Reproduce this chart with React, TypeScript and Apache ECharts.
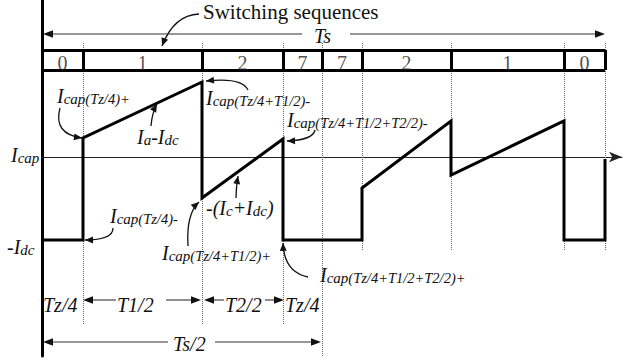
import React, { useEffect, useRef } from 'react';
import * as echarts from 'echarts';

const SERIF = "'Liberation Serif', 'Times New Roman', 'DejaVu Serif', serif";
const INK = '#111';

// time positions of the switching-state boundaries (one unit = one pixel of the original)
const segmentBounds = [0, 41, 160, 241, 280, 320, 409, 522, 563];
const sequenceLabels = ['0', '1', '2', '7', '7', '2', '1', '0'];
// capacitor current waveform
const waveTime = [0, 41, 41, 160, 160, 241, 241, 320, 320, 409, 409, 522, 522, 563, 563];
const waveCurrent = [-83, -83, 19, 75, -41, 18, -83, -83, -31, 36, -18, 36, -83, -83, -2];
// dotted guide lines: lower end for each boundary after the first
const guideBottom = [-168, -168, -168, -199, -93, -93, -93, -93];
const guideTop = 114;
const boxTop = 107;
const boxBottom = 87;
const boxLabelLevel = 94;

type Pt = [number, number];

function head(tip: Pt, from: Pt, len = 9, half = 3.5) {
  const dx = tip[0] - from[0];
  const dy = tip[1] - from[1];
  const d = Math.hypot(dx, dy) || 1;
  const ux = dx / d;
  const uy = dy / d;
  const bx = tip[0] - ux * len;
  const by = tip[1] - uy * len;
  return {
    type: 'polygon',
    silent: true,
    z: 20,
    shape: { points: [[tip[0], tip[1]], [bx - uy * half, by + ux * half], [bx + uy * half, by - ux * half]] },
    style: { fill: INK },
  };
}

function straightArrow(from: Pt, tip: Pt, len = 10, half = 3.8) {
  const dx = tip[0] - from[0];
  const dy = tip[1] - from[1];
  const d = Math.hypot(dx, dy) || 1;
  const end: Pt = [tip[0] - (dx / d) * len * 0.7, tip[1] - (dy / d) * len * 0.7];
  return [
    { type: 'line', silent: true, z: 20, shape: { x1: from[0], y1: from[1], x2: end[0], y2: end[1] }, style: { stroke: '#333', lineWidth: 1.1 } },
    head(tip, from, len, half),
  ];
}

function curvedArrow(from: Pt, ctrl: Pt, tip: Pt) {
  return [
    {
      type: 'bezierCurve',
      silent: true,
      z: 20,
      shape: { x1: from[0], y1: from[1], x2: tip[0], y2: tip[1], cpx1: ctrl[0], cpy1: ctrl[1] },
      style: { stroke: INK, lineWidth: 1.3, fill: 'none' },
    },
    head(tip, ctrl, 8, 3.5),
  ];
}

const rich = {
  n: { fontFamily: SERIF, fontStyle: 'italic', fontSize: 20, fill: INK, verticalAlign: 'bottom' },
  s: { fontFamily: SERIF, fontStyle: 'italic', fontSize: 15, fill: INK, verticalAlign: 'bottom' },
  p: { fontFamily: SERIF, fontStyle: 'italic', fontSize: 14.5, fill: INK, verticalAlign: 'bottom' },
};

function label(x: number, baseline: number, text: string, size = 20, italic = true) {
  return {
    type: 'text',
    silent: true,
    z: 25,
    x,
    y: baseline + 3,
    style: {
      text,
      rich,
      fill: INK,
      fontFamily: SERIF,
      fontSize: size,
      fontStyle: italic ? 'italic' : 'normal',
      align: 'left',
      verticalAlign: 'bottom',
    },
  };
}

const capText = (sub: string) => `{n|I}{s|cap}{p|${sub}}`;

export default function App() {
  const ref = useRef<HTMLDivElement>(null);

  useEffect(() => {
    document.body.style.margin = '0';
    if (!ref.current) return;
    const chart = echarts.init(ref.current, undefined, { renderer: 'svg' });

    const guides = segmentBounds.slice(1).map((b, i) => ({ coords: [[b, guideTop], [b, guideBottom[i]]] }));
    const last = segmentBounds[segmentBounds.length - 1];
    const box = [
      { coords: [[0, boxTop], [last, boxTop]] },
      { coords: [[0, boxBottom], [last, boxBottom]] },
      ...segmentBounds.slice(1).map((b) => ({ coords: [[b, boxTop], [b, boxBottom]] })),
    ];
    const boxLabels = sequenceLabels.map((l, i) => [(segmentBounds[i] + segmentBounds[i + 1]) / 2, boxLabelLevel, l]);
    const wave = waveTime.map((t, i) => [t, waveCurrent[i]]);

    const graphic: any[] = [
      // Switching sequences
      label(203, 19, 'Switching sequences', 21, false),
      ...curvedArrow([199, 14], [174, 15], [162, 46]),
      // Ts
      label(314, 43, 'Ts', 20),
      ...straightArrow([302, 34], [43, 34]),
      ...straightArrow([350, 34], [605, 34]),
      // axis labels
      label(11, 162, '{n|I}{s|cap}'),
      label(7, 254, '{n|-I}{s|dc}'),
      // annotations
      label(57, 103, capText('(Tz/4)+')),
      ...curvedArrow([60, 108], [53, 134], [82, 138]),
      label(137, 144, '{n|I}{s|a}{n|-I}{s|dc}'),
      ...curvedArrow([151, 126], [152, 113], [157, 104]),
      label(206, 105, capText('(Tz/4+T1/2)-')),
      ...curvedArrow([248, 90], [242, 77], [206, 81]),
      label(287, 127, capText('(Tz/4+T1/2+T2/2)-')),
      ...curvedArrow([315, 130], [313, 140], [287, 141]),
      label(206, 215, '{n|-(I}{s|c}{n|+I}{s|dc}{n|)}'),
      ...curvedArrow([236, 198], [236, 188], [238, 176]),
      label(110, 223, capText('(Tz/4)-')),
      ...curvedArrow([113, 228], [113, 240], [85, 240]),
      label(162, 260, capText('(Tz/4+T1/2)+')),
      ...curvedArrow([188, 246], [186, 214], [199, 202]),
      label(320, 282, capText('(Tz/4+T1/2+T2/2)+')),
      ...curvedArrow([308, 277], [284, 272], [283, 243]),
      // bottom time spans
      label(43, 312, 'Tz/4'),
      ...straightArrow([116, 300], [83, 300]),
      label(117, 312, 'T1/2'),
      ...straightArrow([166, 300], [201, 300]),
      ...straightArrow([224, 300], [204, 300]),
      label(225, 312, 'T2/2'),
      ...straightArrow([265, 300], [284, 300]),
      label(285, 312, 'Tz/4'),
      ...straightArrow([168, 342], [43, 342]),
      label(173, 351, 'Ts/2'),
      ...straightArrow([215, 342], [321, 342]),
    ];

    chart.setOption({
      animation: false,
      backgroundColor: '#fff',
      grid: { left: 42, top: 0, width: 580, height: 356 },
      xAxis: {
        type: 'value',
        min: 0,
        max: 580,
        axisLine: { show: true, onZero: true, symbol: ['none', 'arrow'], symbolSize: [8, 13], lineStyle: { color: '#222', width: 1 } },
        axisTick: { show: false },
        axisLabel: { show: false },
        splitLine: { show: false },
      },
      yAxis: {
        type: 'value',
        min: -199,
        max: 157,
        axisLine: { show: true, onZero: false, lineStyle: { color: '#000', width: 3 } },
        axisTick: { show: false },
        axisLabel: { show: false },
        splitLine: { show: false },
      },
      series: [
        {
          type: 'lines',
          coordinateSystem: 'cartesian2d',
          z: 1,
          silent: true,
          lineStyle: { color: '#666', width: 1, type: 'dotted', opacity: 1 },
          data: guides,
        },
        {
          type: 'lines',
          coordinateSystem: 'cartesian2d',
          z: 4,
          silent: true,
          lineStyle: { color: '#000', width: 3, opacity: 1 },
          data: box,
        },
        {
          type: 'scatter',
          z: 5,
          silent: true,
          symbolSize: 1,
          itemStyle: { color: 'transparent' },
          label: {
            show: true,
            position: 'inside',
            formatter: (p: any) => p.value[2],
            fontFamily: SERIF,
            fontSize: 20,
            color: '#222',
          },
          data: boxLabels,
        },
        {
          type: 'line',
          z: 3,
          silent: true,
          showSymbol: false,
          symbol: 'none',
          lineStyle: { color: '#000', width: 3, join: 'miter' },
          data: wave,
        },
      ],
      graphic,
    });

    return () => chart.dispose();
  }, []);

  return <div ref={ref} style={{ width: 624, height: 362, background: '#fff' }} />;
}
